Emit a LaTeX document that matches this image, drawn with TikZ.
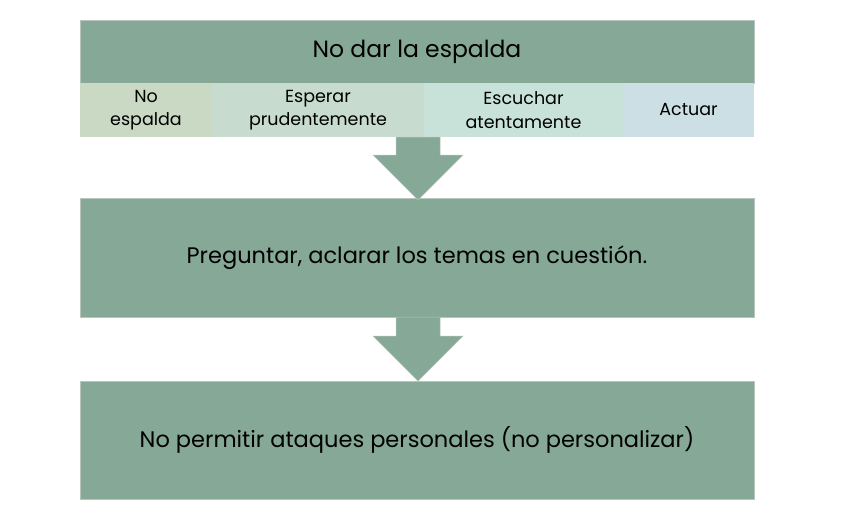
\documentclass[tikz,border=0pt]{standalone}
\usepackage{fontspec}
\setmainfont{Poppins}
\definecolor{boxg}{HTML}{86A897}
\definecolor{cellA}{HTML}{CAD9C4}
\definecolor{cellB}{HTML}{C7DCCF}
\definecolor{cellC}{HTML}{C8E2D9}
\definecolor{cellD}{HTML}{CCDFE4}
\definecolor{edge}{HTML}{B8C4BE}
\begin{document}
\begin{tikzpicture}[x=1pt,y=-1pt,
  bigbox/.style={fill=boxg,draw=edge,line width=0.6pt,inner sep=0pt,font=\fontsize{22.5}{26}\selectfont},
  cell/.style={inner sep=0pt,font=\fontsize{17.5}{23.5}\selectfont,align=center},
  blockarrow/.style={fill=boxg,draw=edge,line width=0.5pt}]
\useasboundingbox (0,0) rectangle (848,517);
\node[bigbox,minimum width=674pt,minimum height=63pt,font=\fontsize{23.5}{26}\selectfont] (top) at (417,51.5) {No dar la espalda};
\node[cell,fill=cellA,minimum width=132pt,minimum height=54pt] (c1) at (146,110) {No\\espalda};
\node[cell,fill=cellB,minimum width=212pt,minimum height=54pt] (c2) at (318,110) {Esperar\\prudentemente};
\node[cell,fill=cellC,minimum width=199pt,minimum height=54pt] (c3) at (523.5,110) {Escuchar\\atentamente};
\node[cell,fill=cellD,minimum width=131pt,minimum height=54pt] (c4) at (688.5,110) {Actuar};
\node[bigbox,minimum width=674pt,minimum height=119pt] (mid) at (417,257.5) {Preguntar, aclarar los temas en cuestión.};
\node[bigbox,minimum width=674pt,minimum height=118pt] (bot) at (417,440) {No permitir ataques personales (no personalizar)};
% block arrows
\draw[blockarrow] (396,137) -- (440,137) -- (440,155) -- (463,155) -- (418,200) -- (373,155) -- (396,155) -- cycle;
\draw[blockarrow] (396,317) -- (440,317) -- (440,336) -- (463,336) -- (418,381) -- (373,336) -- (396,336) -- cycle;
\end{tikzpicture}
\end{document}
